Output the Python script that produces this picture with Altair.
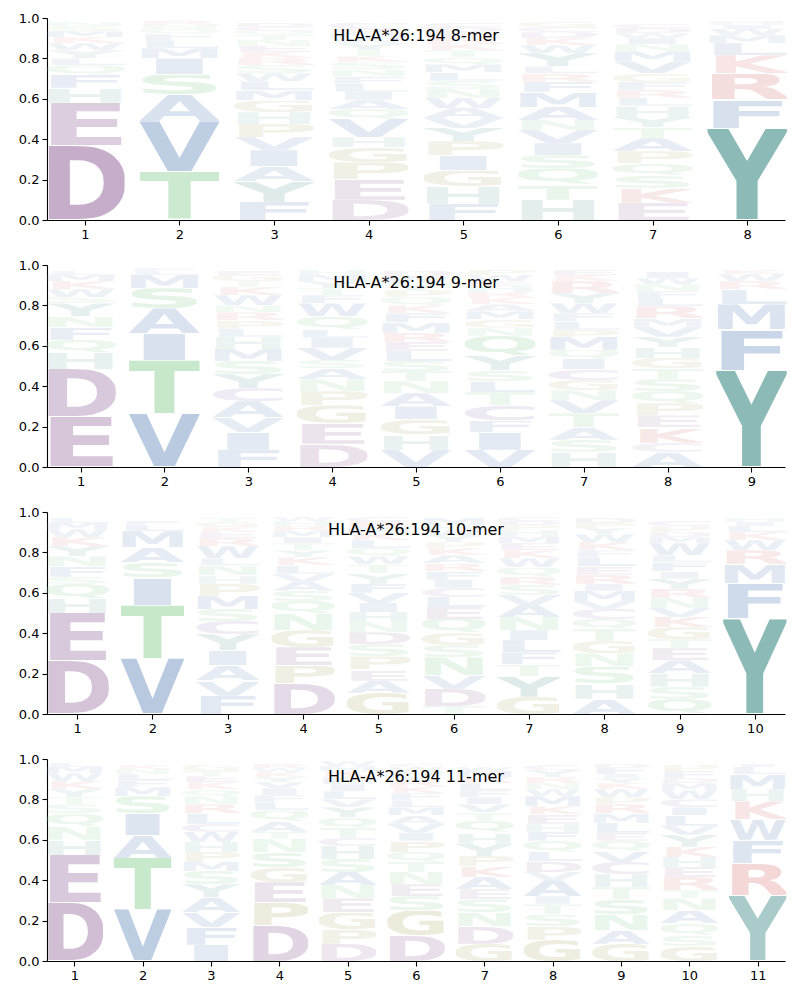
import base64
import altair as alt
import pandas as pd

TITLE_PREFIX = "HLA-A*26:194"
LENGTHS = [8, 9, 10, 11]

# Each string = one position, letters listed bottom -> top with their heights
LOGO_8 = [
    "D .37 E .21 H .075 F .065 Q .045 L .035 Y .04 W .035 K .03 M .03 S .025 N .02",
    "T .24 V .25 A .13 S .10 I .08 M .05 L .04 F .03 Q .025 N .02 R .02",
    "F .09 Y .10 A .075 I .08 V .065 P .065 H .058 G .058 M .05 L .045 W .04 S .04 R .035 K .03 E .03 N .03 T .025 Q .02 C .02 D .02",
    "D .10 E .10 P .085 G .075 H .05 V .09 Q .05 A .045 I .04 L .04 F .035 N .035 S .035 K .03 T .03 Y .035 W .025 M .025 R .02 C .03",
    "F .08 H .085 G .08 I .075 P .07 Y .065 V .05 A .05 W .05 N .045 S .04 L .04 M .04 Q .035 T .035 K .03 R .03 E .03 D .025 C .02",
    "H .10 T .075 Q .08 S .065 I .06 V .065 N .05 A .065 M .075 F .05 R .04 L .035 Y .065 W .04 K .035 D .03 C .025 G .025",
    "E .085 K .075 S .06 Q .06 P .06 A .065 T .055 Y .05 H .055 L .04 R .04 F .04 G .04 V .06 M .05 N .035 I .03 W .025 D .025 C .02",
    "Y .455 F .14 R .13 K .09 L .06 M .04 W .03 I .02 H .02",
]
LOGO_9 = [
    "E .25 D .235 H .08 Q .065 F .06 N .055 Y .065 S .03 W .04 K .04 M .03 L .02",
    "V .265 T .265 I .13 A .125 S .10 M .065 L .02 F .015",
    "F .085 I .085 V .075 A .08 C .065 Y .07 S .065 M .06 H .06 L .04 P .04 R .04 N .035 W .05 K .04 T .03 G .03 E .02",
    "D .115 E .10 G .09 P .07 N .06 A .055 S .04 V .06 I .05 L .04 Q .065 W .065 F .04 T .035 Y .035 M .03 H .025",
    "V .085 H .075 G .075 I .065 A .065 N .06 T .05 S .05 L .05 E .045 R .045 M .05 F .045 K .04 Q .04 P .035 Y .035 W .03 D .03",
    "V .085 I .085 F .06 C .075 T .065 L .055 S .055 Y .07 Q .10 N .04 G .04 M .04 A .035 K .03 R .03 H .03 E .025 W .03 P .025",
    "H .075 S .06 A .06 T .07 V .065 N .05 G .05 C .055 I .05 Q .045 M .065 P .035 L .04 F .04 W .05 Y .05 R .06 K .03 E .025",
    "A .075 C .045 K .075 E .06 P .06 Q .06 S .06 T .055 G .05 H .055 Y .05 V .05 M .04 R .06 L .04 F .035 N .035 W .03 I .03",
    "Y .48 F .20 M .125 L .075 R .04 W .035 K .02",
]
LOGO_10 = [
    "D .265 E .235 H .07 Q .075 S .035 F .05 N .05 Y .05 K .045 W .04 M .03 L .025",
    "V .275 T .265 I .135 S .075 A .075 M .08 L .03 F .02",
    "F .09 V .075 A .075 I .075 Y .08 C .065 S .06 M .065 P .06 H .04 N .05 L .035 W .06 R .04 E .03 K .025 G .025 T .02",
    "D .15 P .09 E .09 G .085 N .08 Q .065 S .05 A .045 V .04 L .04 K .04 Y .035 T .035 I .03 M .03 R .025 H .025 W .02",
    "G .105 A .06 E .055 P .065 S .06 D .06 N .05 H .05 I .045 V .05 F .045 Y .05 T .045 W .04 Q .04 L .04 K .035 M .03 R .025 C .025",
    "T .04 D .085 V .065 N .09 S .06 G .06 Q .07 E .06 L .05 C .045 I .04 F .04 R .04 A .04 K .035 P .03 Y .03 W .03 H .025 M .035",
    "G .085 Y .10 T .06 F .06 L .06 I .05 N .065 A .06 V .05 S .05 R .04 Q .045 W .045 K .04 E .035 M .035 H .03 P .025 D .02 C .02",
    "A .075 H .075 S .085 N .065 G .06 T .06 Q .05 C .05 V .04 M .05 I .035 R .045 E .04 L .045 F .035 K .04 W .04 Y .03 P .025 D .025",
    "Q .075 S .06 H .065 A .065 E .06 T .045 G .06 K .05 V .045 N .05 R .045 Y .05 I .035 F .045 L .035 W .06 M .03 D .025 P .03 C .025",
    "Y .475 F .17 M .095 R .07 W .05 K .04 L .03 I .02 H .02",
]
LOGO_11 = [
    "D .29 E .235 H .075 N .065 Q .065 S .045 T .035 Y .04 K .04 W .04 M .03 L .02",
    "V .255 T .255 A .11 I .11 S .085 M .045 F .035 L .03 N .025 K .02",
    "I .08 F .085 V .075 A .075 Y .065 S .065 M .045 P .05 H .05 W .05 C .04 L .05 R .045 N .04 Q .035 K .035 E .03 T .025 G .03",
    "D .175 P .115 E .10 G .075 S .075 N .065 T .035 A .05 Q .055 L .04 F .035 I .035 V .03 Y .025 K .025 W .02 R .02",
    "D .085 P .07 G .085 E .07 N .065 A .065 S .065 H .065 C .04 T .05 Q .05 Y .05 V .04 L .04 I .035 F .035 K .03 M .025 W .025",
    "D .125 G .125 S .07 E .06 N .06 T .05 Q .05 P .055 I .04 V .045 A .04 M .04 L .035 F .035 K .03 R .03 Y .025 H .025 W .02 C .015",
    "G .085 D .085 N .07 S .065 E .05 A .06 K .055 P .05 Y .06 H .055 Q .06 T .04 V .04 I .035 F .035 L .035 R .03 M .03 W .02",
    "G .105 P .065 S .06 T .05 I .04 A .08 V .04 D .055 L .045 Q .055 F .045 H .04 E .045 K .04 M .05 W .035 N .03 R .03 Y .035 C .025",
    "G .085 A .065 N .08 S .075 T .06 H .065 C .06 V .055 Q .05 E .04 L .05 M .045 R .045 P .035 W .04 K .03 Y .025 I .02 F .03 D .02",
    "G .075 S .055 Q .055 A .065 N .06 T .04 R .065 E .05 H .05 K .05 Y .06 V .045 L .05 I .04 C .04 W .045 M .035 D .025 F .035 P .03",
    "Y .325 R .16 F .115 W .10 K .09 H .06 M .075 L .035 I .015",
]
LOGOS = {8: LOGO_8, 9: LOGO_9, 10: LOGO_10, 11: LOGO_11}

# ---- styles ----
AA_COLORS = {
    "D": "#bc9fc1", "E": "#bc9fc1", "C": "#b8a6cf",
    "K": "#e3a09e", "R": "#e3a09e",
    "A": "#91acd0", "V": "#91acd0", "I": "#91acd0", "L": "#91acd0",
    "M": "#91acd0", "F": "#91acd0", "W": "#91acd0",
    "Y": "#8cbab7", "H": "#9ec6c2",
    "S": "#a5dbac", "T": "#a5dbac", "N": "#a5dbac", "Q": "#a5dbac",
    "G": "#c6c497", "P": "#c6c497",
}
NARROW_BEARING = set("AVWYXTK")
HALF_WIDTH = 0.42
PANEL_W, PANEL_H = 738, 202


def glyph_url(aa):
    crop = 1 if aa in NARROW_BEARING else 7
    y_top = -74
    y_bot = 18 if aa == "Q" else 1
    svg = (
        "<svg xmlns='http://www.w3.org/2000/svg' "
        f"viewBox='{crop} {y_top} {100 - 2 * crop} {y_bot - y_top}' preserveAspectRatio='none'>"
        "<text x='0' y='0' textLength='100' lengthAdjust='spacingAndGlyphs' "
        "font-family='DejaVu Sans' font-weight='bold' font-size='100' "
        f"fill='{AA_COLORS[aa]}'>{aa}</text></svg>"
    )
    return "data:image/svg+xml;base64," + base64.b64encode(svg.encode()).decode()


rows = []
for n, cols in LOGOS.items():
    for pos, col in enumerate(cols, start=1):
        toks = col.split()
        for rank in range(0, len(toks), 2):
            aa, h = toks[rank], float(toks[rank + 1])
            rows.append({"length": n, "pos": pos, "rank": rank // 2, "aa": aa,
                         "h": h, "url": glyph_url(aa)})
df = pd.DataFrame(rows)


def panel(n):
    sub = df[df["length"] == n]
    logo = (
        alt.Chart(sub)
        .transform_stack(stack="h", groupby=["pos"], as_=["y0", "y1"],
                         sort=[alt.SortField("rank", order="ascending")])
        .transform_calculate(xl=f"datum.pos - {HALF_WIDTH}", xr=f"datum.pos + {HALF_WIDTH}")
        .mark_image(aspect=False)
        .encode(
            x=alt.X("xl:Q", scale=alt.Scale(domain=[0.6, n + 0.4], nice=False, zero=False),
                    axis=alt.Axis(values=list(range(1, n + 1)), format="d", title=None)),
            x2="xr:Q",
            y=alt.Y("y0:Q", scale=alt.Scale(domain=[0, 1], nice=False),
                    axis=alt.Axis(values=[0, 0.2, 0.4, 0.6, 0.8, 1.0], format=".1f", title=None)),
            y2="y1:Q",
            url="url:N",
            opacity=alt.Opacity("h:Q", scale=alt.Scale(domain=[0, 0.45], range=[0.07, 1], clamp=True),
                                legend=None),
        )
    )
    label = (
        alt.Chart(pd.DataFrame({"t": [f"{TITLE_PREFIX} {n}-mer"]}))
        .mark_text(font="DejaVu Sans", fontSize=16, color="black", align="center", baseline="middle")
        .encode(text="t:N", x=alt.value(PANEL_W / 2), y=alt.value(18))
    )
    return alt.layer(logo, label).properties(width=PANEL_W, height=PANEL_H)


chart = (
    alt.vconcat(*[panel(n) for n in LENGTHS], spacing=18)
    .properties(padding={"left": 10, "top": 4, "right": 5, "bottom": 2})
    .configure_view(stroke=None)
    .configure_axis(labelFont="DejaVu Sans", labelFontSize=13, labelColor="black",
                    tickColor="black", domainColor="black", tickSize=5, labelPadding=3,
                    domainWidth=1.1, tickWidth=1.1, grid=False)
)

chart.save("out.html", embed_options={"renderer": "svg", "actions": False})
